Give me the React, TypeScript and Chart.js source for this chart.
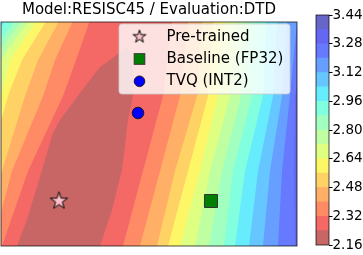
import React, { useEffect, useRef } from 'react';
import { Chart, registerables } from 'chart.js';

Chart.register(...registerables);

const FONT = "'DejaVu Sans', sans-serif";
const TITLE = 'Model:RESISC45 / Evaluation:DTD';

// contour levels (colorbar)
const LEVELS = [2.16, 2.24, 2.32, 2.4, 2.48, 2.56, 2.64, 2.72, 2.8, 2.88, 2.96, 3.04, 3.12, 3.2, 3.28, 3.36, 3.44];
const CBAR_TICKS = [2.16, 2.32, 2.48, 2.64, 2.8, 2.96, 3.12, 3.28, 3.44];
const BAND_COLORS = [
  'rgb(200,102,102)', 'rgb(244,104,102)', 'rgb(255,139,102)', 'rgb(255,175,102)',
  'rgb(255,210,102)', 'rgb(253,246,102)', 'rgb(222,255,130)', 'rgb(192,255,161)',
  'rgb(161,255,192)', 'rgb(130,255,222)', 'rgb(102,236,253)', 'rgb(102,198,255)',
  'rgb(102,159,255)', 'rgb(102,121,255)', 'rgb(102,102,244)', 'rgb(102,102,200)',
];

// landscape grid extents
const X_MIN = 0;
const X_MAX = 296;
const Y_MIN = 0;
const Y_MAX = 224;

// markers
const MARKER_LABELS = ['Pre-trained', 'Baseline (FP32)', 'TVQ (INT2)'];
const MARKER_X = [58, 210, 137];
const MARKER_Y = [45, 45, 133];

// lowest basin (2.16 - 2.24) outline
const BASIN_X = [16, 16, 26, 41, 52, 59, 76, 89, 99, 109, 119, 125, 130, 132, 132, 127, 121, 111, 99, 99];
const BASIN_Y = [-4, 0, 26, 76, 113, 126, 149, 166, 179, 186, 194, 200, 191, 176, 150, 126, 76, 36, 0, -4];

// contour branches for levels LEVELS[2] .. LEVELS[14]
const LEFT_ROW_Y = [223, 186, 150, 75, 0];
const CONTOUR_LEFT_X = [
  [88, 75, 62, 27, 1],
  [71, 54, 42, 11, -9],
  [57, 37, 24, 1, -22],
  [44, 21, 7, -14, -38],
  [34, 9, 0, -26, -52],
  [26, 0, -8, -38, -66],
  [19, -8, -17, -50, -80],
  [12, -16, -26, -62, -94],
  [3, -24, -35, -74, -108],
  [-8, -34, -46, -86, -122],
  [-18, -44, -57, -98, -136],
  [-28, -54, -68, -110, -150],
  [-38, -64, -79, -122, -164],
];
const RIGHT_ROW_Y = [0, 75, 150, 223];
const CONTOUR_RIGHT_X = [
  [122, 142, 162, 171],
  [139, 159, 179, 187],
  [156, 174, 196, 201],
  [167, 187, 207, 212],
  [179, 199, 217, 223],
  [194, 209, 229, 234],
  [208, 221, 240, 244],
  [223, 232, 251, 254],
  [234, 244, 262, 265],
  [248, 257, 272, 276],
  [262, 269, 281, 286],
  [277, 281, 289, 296],
  [294, 293, 294, 305],
];

function contourPolygon(k: number) {
  const L = CONTOUR_LEFT_X[k];
  const R = CONTOUR_RIGHT_X[k];
  const pts: { x: number; y: number }[] = [];
  pts.push({ x: L[0], y: LEFT_ROW_Y[0] + 14 });
  L.forEach((x, i) => pts.push({ x, y: LEFT_ROW_Y[i] }));
  pts.push({ x: L[L.length - 1], y: LEFT_ROW_Y[LEFT_ROW_Y.length - 1] - 14 });
  pts.push({ x: R[0], y: RIGHT_ROW_Y[0] - 14 });
  R.forEach((x, i) => pts.push({ x, y: RIGHT_ROW_Y[i] }));
  pts.push({ x: R[R.length - 1], y: RIGHT_ROW_Y[RIGHT_ROW_Y.length - 1] + 14 });
  return pts;
}

function makeStar(R: number, lw: number) {
  const size = Math.ceil(2 * R + 2 * lw + 2);
  const c = document.createElement('canvas');
  c.width = size;
  c.height = size;
  const g = c.getContext('2d')!;
  const cx = size / 2;
  const cy = size / 2;
  g.beginPath();
  for (let i = 0; i < 10; i++) {
    const r = i % 2 === 0 ? R : R * 0.381966;
    const a = -Math.PI / 2 + (i * Math.PI) / 5;
    const px = cx + r * Math.cos(a);
    const py = cy + r * Math.sin(a);
    if (i === 0) g.moveTo(px, py);
    else g.lineTo(px, py);
  }
  g.closePath();
  g.fillStyle = '#ffc0cb';
  g.fill();
  g.lineWidth = lw;
  g.strokeStyle = '#000';
  g.stroke();
  return c;
}

function roundRectPath(ctx: CanvasRenderingContext2D, x: number, y: number, w: number, h: number, r: number) {
  ctx.beginPath();
  ctx.moveTo(x + r, y);
  ctx.lineTo(x + w - r, y);
  ctx.arcTo(x + w, y, x + w, y + r, r);
  ctx.lineTo(x + w, y + h - r);
  ctx.arcTo(x + w, y + h, x + w - r, y + h, r);
  ctx.lineTo(x + r, y + h);
  ctx.arcTo(x, y + h, x, y + h - r, r);
  ctx.lineTo(x, y + r);
  ctx.arcTo(x, y, x + r, y, r);
  ctx.closePath();
}

export default function App() {
  const mainRef = useRef<HTMLCanvasElement>(null);
  const cbarRef = useRef<HTMLCanvasElement>(null);

  useEffect(() => {
    const star = makeStar(9.1, 1);
    const legendStar = makeStar(6.7, 1);

    const markerDatasets = [
      {
        label: MARKER_LABELS[0],
        data: [{ x: MARKER_X[0], y: MARKER_Y[0] }],
        showLine: false,
        pointStyle: star,
        pointRadius: 9,
        order: 0,
      },
      {
        label: MARKER_LABELS[1],
        data: [{ x: MARKER_X[1], y: MARKER_Y[1] }],
        showLine: false,
        pointStyle: 'rect',
        pointRadius: 9.2,
        backgroundColor: '#008000',
        borderColor: '#333333',
        pointBackgroundColor: '#008000',
        pointBorderColor: '#333333',
        pointBorderWidth: 1,
        order: 0,
      },
      {
        label: MARKER_LABELS[2],
        data: [{ x: MARKER_X[2], y: MARKER_Y[2] }],
        showLine: false,
        pointStyle: 'circle',
        pointRadius: 5.8,
        backgroundColor: '#0000ff',
        borderColor: '#1a1a1a',
        pointBackgroundColor: '#0000ff',
        pointBorderColor: '#1a1a1a',
        pointBorderWidth: 1,
        order: 0,
      },
    ];

    const basin = {
      label: 'basin',
      data: BASIN_X.map((x, i) => ({ x, y: BASIN_Y[i] })),
      showLine: true,
      fill: 'shape',
      backgroundColor: BAND_COLORS[0],
      borderColor: 'rgba(0,0,0,0)',
      borderWidth: 0,
      pointRadius: 0,
      tension: 0,
      order: 1,
    };

    const contourSets = CONTOUR_LEFT_X.map((_, k) => ({
      label: 'level' + (k + 2),
      data: contourPolygon(k),
      showLine: true,
      fill: 'shape',
      backgroundColor: BAND_COLORS[k + 1],
      borderColor: 'rgba(0,0,0,0)',
      borderWidth: 0,
      pointRadius: 0,
      tension: 0,
      order: k + 2,
    }));

    const background = {
      label: 'top',
      data: [
        { x: X_MAX + 20, y: Y_MIN - 20 },
        { x: X_MIN - 20, y: Y_MIN - 20 },
        { x: X_MIN - 20, y: Y_MAX + 20 },
        { x: X_MAX + 20, y: Y_MAX + 20 },
      ],
      showLine: true,
      fill: 'shape',
      backgroundColor: BAND_COLORS[14],
      borderColor: 'rgba(0,0,0,0)',
      borderWidth: 0,
      pointRadius: 0,
      tension: 0,
      order: 20,
    };

    const framePlugin = {
      id: 'frame',
      afterDatasetsDraw(chart: any) {
        const { ctx, chartArea } = chart;
        ctx.save();
        ctx.strokeStyle = 'rgba(0,0,0,0.7)';
        ctx.lineWidth = 1;
        ctx.strokeRect(chartArea.left, chartArea.top, chartArea.right - chartArea.left, chartArea.bottom - chartArea.top);
        ctx.restore();
      },
    };

    const legendPlugin = {
      id: 'cornerLegend',
      afterDatasetsDraw(chart: any) {
        const { ctx, chartArea } = chart;
        const w = 171;
        const h = 70;
        const x0 = chartArea.right - 7 - w;
        const y0 = chartArea.top + 2;
        ctx.save();
        roundRectPath(ctx, x0, y0, w, h, 3);
        ctx.fillStyle = 'rgba(255,255,255,0.8)';
        ctx.fill();
        ctx.strokeStyle = 'rgba(204,204,204,0.8)';
        ctx.lineWidth = 1;
        ctx.stroke();
        const mx = x0 + 20.5;
        MARKER_LABELS.forEach((label, i) => {
          const cy = y0 + 12.7 + i * 22.3;
          if (i === 0) {
            ctx.drawImage(legendStar, mx - legendStar.width / 2, cy - legendStar.height / 2);
          } else if (i === 1) {
            ctx.fillStyle = '#008000';
            ctx.strokeStyle = '#333333';
            ctx.lineWidth = 1;
            ctx.fillRect(mx - 5.3, cy - 5.3, 10.6, 10.6);
            ctx.strokeRect(mx - 5.3, cy - 5.3, 10.6, 10.6);
          } else {
            ctx.beginPath();
            ctx.arc(mx, cy, 5.3, 0, Math.PI * 2);
            ctx.fillStyle = '#0000ff';
            ctx.fill();
            ctx.strokeStyle = '#1a1a1a';
            ctx.lineWidth = 1;
            ctx.stroke();
          }
          ctx.fillStyle = '#000';
          ctx.font = `15px ${FONT}`;
          ctx.textAlign = 'left';
          ctx.textBaseline = 'middle';
          ctx.fillText(label, x0 + 47.5, cy);
        });
        ctx.restore();
      },
    };

    const main = new Chart(mainRef.current!, {
      type: 'line',
      data: { datasets: [...markerDatasets, basin, ...contourSets, background] as any },
      options: {
        animation: false,
        responsive: false,
        events: [],
        layout: { autoPadding: false, padding: { left: 1, right: 3, top: 0, bottom: 9 } },
        plugins: {
          legend: { display: false },
          tooltip: { enabled: false },
          title: {
            display: true,
            text: TITLE,
            color: '#000',
            font: { family: FONT, size: 15, weight: 'normal' },
            padding: { top: 1, bottom: 3 },
          },
        },
        scales: {
          x: { type: 'linear', min: X_MIN, max: X_MAX, display: false },
          y: { type: 'linear', min: Y_MIN, max: Y_MAX, display: false },
        },
      } as any,
      plugins: [framePlugin, legendPlugin],
    });

    const cbarFrame = {
      id: 'cbarFrame',
      afterDatasetsDraw(chart: any) {
        const { ctx, chartArea } = chart;
        ctx.save();
        ctx.strokeStyle = 'rgba(0,0,0,0.7)';
        ctx.lineWidth = 1;
        ctx.strokeRect(chartArea.left, chartArea.top, chartArea.right - chartArea.left, chartArea.bottom - chartArea.top);
        ctx.restore();
      },
    };

    const cbar = new Chart(cbarRef.current!, {
      type: 'bar',
      data: {
        labels: [''],
        datasets: BAND_COLORS.map((c, i) => ({
          data: [[LEVELS[0], LEVELS[i + 1]]],
          backgroundColor: c,
          borderWidth: 0,
          grouped: false,
          barPercentage: 1,
          categoryPercentage: 1,
          order: i,
        })) as any,
      },
      options: {
        animation: false,
        responsive: false,
        events: [],
        layout: { autoPadding: false, padding: { left: 20, top: 15, bottom: 10, right: 0 } },
        plugins: { legend: { display: false }, tooltip: { enabled: false }, title: { display: false } },
        scales: {
          x: { display: false },
          y: {
            type: 'linear',
            position: 'right',
            min: LEVELS[0],
            max: LEVELS[LEVELS.length - 1],
            afterFit: (s: any) => {
              s.width = 34;
            },
            afterBuildTicks: (a: any) => {
              a.ticks = CBAR_TICKS.map((v) => ({ value: v }));
            },
            ticks: {
              color: '#000',
              padding: 0,
              font: { family: FONT, size: 13.5 },
              callback: (v: any) => Number(v).toFixed(2),
            },
            grid: { drawOnChartArea: false, tickLength: 3.5, tickColor: '#000', lineWidth: 1 },
            border: { display: false },
          },
        },
      } as any,
      plugins: [cbarFrame],
    });

    return () => {
      main.destroy();
      cbar.destroy();
    };
  }, []);

  return (
    <div style={{ position: 'fixed', left: 0, top: 0, width: 363, height: 255, overflow: 'hidden', background: '#fff' }}>
      <canvas ref={mainRef} width={300} height={255} style={{ position: 'absolute', left: 0, top: 0, width: 300, height: 255 }} />
      <canvas ref={cbarRef} width={67} height={255} style={{ position: 'absolute', left: 296, top: 0, width: 67, height: 255 }} />
    </div>
  );
}
